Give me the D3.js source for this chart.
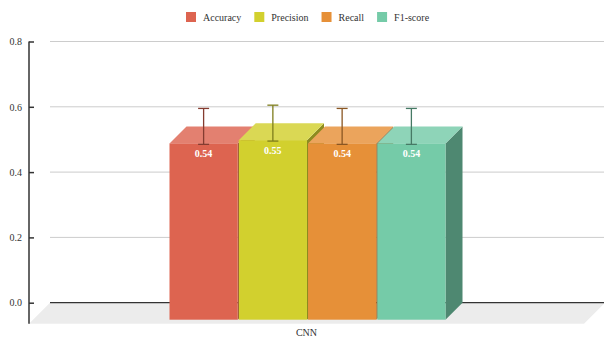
<!DOCTYPE html>
<html>
<head>
<meta charset="utf-8">
<script src="https://cdn.jsdelivr.net/npm/d3@7/dist/d3.min.js"></script>
<style>
  html, body { margin: 0; padding: 0; background: #ffffff; }
  svg { display: block; }
  svg text { font-family: "Liberation Serif", "DejaVu Serif", serif !important; }
</style>
</head>
<body>
<svg id="chart" width="604" height="339" font-family="Liberation Serif, serif"></svg>
<script>
// Model scores for the CNN run, with their spread
const categories = ["CNN"];
const seriesNames = ["Accuracy", "Precision", "Recall", "F1-score"];
const seriesValues = [0.54, 0.55, 0.54, 0.54];
const seriesErrors = [0.055, 0.055, 0.055, 0.055];
const seriesColors = ["#dd6450", "#d2d02e", "#e69038", "#75cba8"];
const yTicks = [0.0, 0.2, 0.4, 0.6, 0.8];

const W = 604, H = 339;
const FONT = "Liberation Serif, serif";
const svg = d3.select("#chart");

// Front plane / back plane geometry of the pseudo-3D view
const axisX = 29;          // y-axis position (front plane)
const floorDepth = 21;     // depth of the floor slab
const barDepth = 17;       // depth of each bar
const backLeft = axisX + floorDepth;

const y = d3.scaleLinear().domain([0, 0.8]).range([302.7, 41.5]);
const y0 = y(0);

const x = d3.scaleBand().domain(categories).range([axisX, W - 20]);
const catCenter = x("CNN") + x.bandwidth() / 2;
const inner = d3.scaleBand().domain(seriesNames)
  .range([catCenter - 137, catCenter + 139])
  .paddingInner(0.015);

const shade = (c, k) => { const o = d3.rgb(c); return d3.rgb(o.r * k, o.g * k, o.b * k).formatHex(); };
const tint = (c, t) => d3.interpolateRgb(c, "#ffffff")(t);

// Floor
svg.append("path")
  .attr("d", d3.line()([
    [backLeft, y0], [W + 1, y0], [W - 20, y0 + floorDepth], [axisX, y0 + floorDepth]
  ]) + "Z")
  .attr("fill", "#ececec");

// Grid lines on the back wall
svg.append("g").selectAll("line")
  .data(yTicks.filter(d => d > 0))
  .join("line")
  .attr("x1", backLeft).attr("x2", W)
  .attr("y1", d => y(d)).attr("y2", d => y(d))
  .attr("stroke", "#cccccc").attr("stroke-width", 1);

// Zero line
svg.append("line")
  .attr("x1", backLeft).attr("x2", W)
  .attr("y1", y0).attr("y2", y0)
  .attr("stroke", "#333333").attr("stroke-width", 1.2);

// Y axis
const yAxis = d3.axisRight(y).tickValues(yTicks).tickSize(5).tickFormat(d3.format(".1f"));
const ag = svg.append("g").attr("transform", `translate(${axisX},0)`).call(yAxis)
  .attr("font-family", FONT);
ag.select(".domain").remove();
ag.selectAll(".tick line").attr("stroke", "#333333").attr("stroke-width", 1.5);
ag.selectAll(".tick text")
  .attr("x", -7).attr("text-anchor", "end")
  .attr("font-family", FONT).attr("font-size", 10).attr("fill", "#333333");
svg.append("line")
  .attr("x1", axisX).attr("x2", axisX)
  .attr("y1", y(0.8)).attr("y2", y0 + floorDepth)
  .attr("stroke", "#333333").attr("stroke-width", 1.5);

// Bars: side, top, front (drawn left to right so later bars overlap)
const bars = seriesNames.map((n, i) => ({ name: n, value: seriesValues[i], err: seriesErrors[i], color: seriesColors[i] }));
const bw = inner.bandwidth();
const bg = svg.append("g");
bars.forEach(d => {
  const xl = inner(d.name), xr = xl + bw;
  const yb = y(d.value), yf = yb + barDepth;
  const g = bg.append("g");
  g.append("path")
    .attr("d", d3.line()([[xr, yf], [xr + barDepth, yb], [xr + barDepth, y0], [xr, y0 + barDepth]]) + "Z")
    .attr("fill", shade(d.color, 0.67));
  g.append("path")
    .attr("d", d3.line()([[xl, yf], [xl + barDepth, yb], [xr + barDepth, yb], [xr, yf]]) + "Z")
    .attr("fill", tint(d.color, 0.18));
  g.append("rect")
    .attr("x", xl).attr("y", yf).attr("width", bw).attr("height", y0 + barDepth - yf)
    .attr("fill", d.color);
  g.append("text")
    .attr("x", xl + bw / 2).attr("y", yf + 10)
    .attr("text-anchor", "middle").attr("dominant-baseline", "central")
    .attr("font-family", FONT)
    .attr("font-size", 10).attr("font-weight", "bold").attr("fill", "#ffffff")
    .text(d3.format(".2f")(d.value));
});

// Error bars
const eg = svg.append("g");
bars.forEach(d => {
  const cx = inner(d.name) + bw / 2;
  const c = shade(d.color, 0.6);
  const top = y(d.value + d.err), bot = y(d.value - d.err);
  eg.append("line").attr("x1", cx).attr("x2", cx).attr("y1", top).attr("y2", bot)
    .attr("stroke", c).attr("stroke-width", 1.3);
  [top, bot].forEach(yy => eg.append("line")
    .attr("x1", cx - 5.5).attr("x2", cx + 5.5).attr("y1", yy).attr("y2", yy)
    .attr("stroke", c).attr("stroke-width", 1.3));
});

// Category label
svg.append("text")
  .attr("x", catCenter).attr("y", 332)
  .attr("text-anchor", "middle").attr("dominant-baseline", "central")
  .attr("font-family", FONT)
  .attr("font-size", 10).attr("fill", "#333333")
  .text(categories[0]);

// Legend
const lg = svg.append("g");
let lx = 0;
bars.forEach(d => {
  const it = lg.append("g").attr("transform", `translate(${lx},0)`);
  it.append("rect").attr("x", 0).attr("y", 12).attr("width", 10).attr("height", 10).attr("fill", d.color);
  const t = it.append("text").attr("x", 17).attr("y", 17).attr("dominant-baseline", "central")
    .attr("font-family", FONT)
    .attr("font-size", 10).attr("fill", "#333333").text(d.name);
  lx += 17 + t.node().getComputedTextLength() + 13;
});
const legendW = lx - 13;
lg.attr("transform", `translate(${Math.round(308 - legendW / 2)},0)`);
</script>
</body>
</html>
